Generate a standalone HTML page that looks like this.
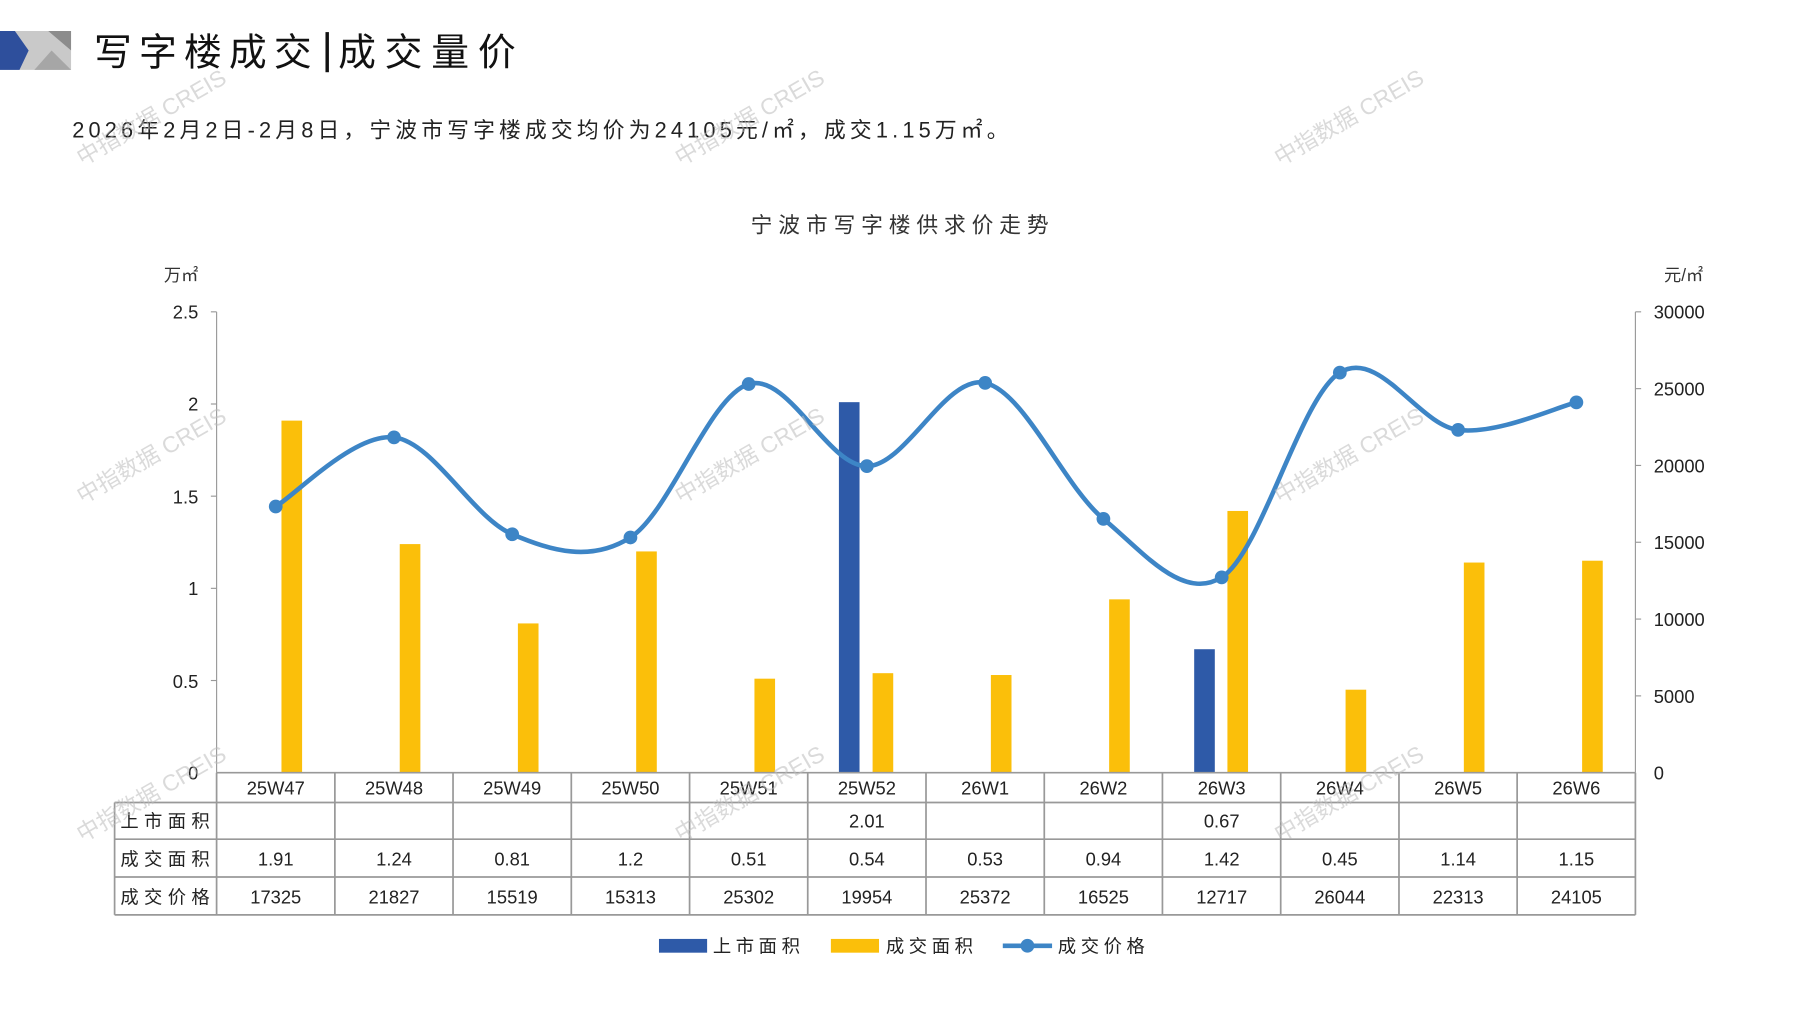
<!DOCTYPE html>
<html><head><meta charset="utf-8"><style>
html,body{margin:0;padding:0;background:#fff;}
svg{display:block;font-family:"Liberation Sans","Noto Sans CJK SC",sans-serif;}
</style></head><body>
<svg width="1797" height="1010" viewBox="0 0 1568 881" preserveAspectRatio="none" xmlns="http://www.w3.org/2000/svg">
<rect width="1568" height="881" fill="#fff"/>
<!-- header -->
<polygon points="0,27 42,27 62,44 62,61 0,61" fill="#c9c9c9"/>
<polygon points="42,27 62,27 62,44" fill="#8c8c8c"/>
<polygon points="0,27 13,27 25,44 17,61 0,61" fill="#2e4f9c"/>
<polygon points="30,61 45,44 62,61" fill="#a6a6a6"/>
<text x="82" y="57" font-size="33" fill="#111" textLength="190" lengthAdjust="spacing">写字楼成交</text>
<rect x="284" y="28" width="3" height="35" fill="#111"/>
<text x="295" y="57" font-size="33" fill="#111" textLength="155" lengthAdjust="spacing">成交量价</text>
<text x="63" y="120" font-size="19" fill="#222" textLength="817" lengthAdjust="spacing">2026年2月2日-2月8日，宁波市写字楼成交均价为24105元/㎡，成交1.15万㎡。</text>
<text x="655" y="203" font-size="19" fill="#333" textLength="260" lengthAdjust="spacing">宁波市写字楼供求价走势</text>
<text x="143" y="245" font-size="15" fill="#333">万㎡</text>
<text x="1452" y="245" font-size="15" fill="#333">元/㎡</text>
<!-- axes -->
<g stroke="#999" stroke-width="1">
<line x1="189" y1="272" x2="189" y2="674"/>
<line x1="1427" y1="272" x2="1427" y2="674"/>
<line x1="184" y1="272" x2="189" y2="272"/><line x1="184" y1="352.4" x2="189" y2="352.4"/><line x1="184" y1="432.8" x2="189" y2="432.8"/><line x1="184" y1="513.2" x2="189" y2="513.2"/><line x1="184" y1="593.6" x2="189" y2="593.6"/>
<line x1="1427" y1="272" x2="1432" y2="272"/><line x1="1427" y1="339" x2="1432" y2="339"/><line x1="1427" y1="406" x2="1432" y2="406"/><line x1="1427" y1="473" x2="1432" y2="473"/><line x1="1427" y1="540" x2="1432" y2="540"/><line x1="1427" y1="607" x2="1432" y2="607"/>
</g>
<g font-size="16" fill="#222" text-anchor="end">
<text x="173" y="278">2.5</text><text x="173" y="358">2</text><text x="173" y="439">1.5</text><text x="173" y="519">1</text><text x="173" y="600">0.5</text><text x="173" y="680">0</text>
</g>
<g font-size="16" fill="#222">
<text x="1443" y="278">30000</text><text x="1443" y="345">25000</text><text x="1443" y="412">20000</text><text x="1443" y="479">15000</text><text x="1443" y="546">10000</text><text x="1443" y="613">5000</text><text x="1443" y="680">0</text>
</g>
<!-- bars -->
<g fill="#2e5aa8">
<rect x="732" y="350.8" width="18" height="323.2"/>
<rect x="1042" y="566.3" width="18" height="107.7"/>
</g>
<g fill="#fbbf0a">
<rect x="245.6" y="366.9" width="18" height="307.1"/>
<rect x="348.8" y="474.6" width="18" height="199.4"/>
<rect x="451.9" y="543.8" width="18" height="130.2"/>
<rect x="555.1" y="481.0" width="18" height="193"/>
<rect x="658.3" y="592.0" width="18" height="82"/>
<rect x="761.4" y="587.2" width="18" height="86.8"/>
<rect x="864.6" y="588.8" width="18" height="85.2"/>
<rect x="967.8" y="522.8" width="18" height="151.2"/>
<rect x="1071.0" y="445.7" width="18" height="228.3"/>
<rect x="1174.1" y="601.6" width="18" height="72.4"/>
<rect x="1277.3" y="490.7" width="18" height="183.3"/>
<rect x="1380.5" y="489.1" width="18" height="184.9"/>
</g>
<!-- line -->
<path d="M240.6,441.8 C257.8,431.75 309.4,377.5 343.8,381.5 C378.2,385.5 412.5,451.45 446.9,466 C481.3,480.55 515.7,490.6 550.1,468.8 C584.5,447 618.9,345.4 653.3,335 C687.7,324.6 722,406.8 756.4,406.6 C790.8,406.4 825.2,326.3 859.6,334 C894,341.7 928.4,424.3 962.8,452.6 C997.2,480.9 1031.6,524.9 1066,503.6 C1100.4,482.3 1134.7,346.4 1169.1,325 C1203.5,303.6 1237.9,370.7 1272.3,375 C1306.7,379.3 1358.3,355 1375.5,351" fill="none" stroke="#3d85c6" stroke-width="4"/>
<g fill="#3d85c6">
<circle cx="240.6" cy="441.8" r="6"/><circle cx="343.8" cy="381.5" r="6"/><circle cx="446.9" cy="466" r="6"/><circle cx="550.1" cy="468.8" r="6"/><circle cx="653.3" cy="335" r="6"/><circle cx="756.4" cy="406.6" r="6"/><circle cx="859.6" cy="334" r="6"/><circle cx="962.8" cy="452.6" r="6"/><circle cx="1066" cy="503.6" r="6"/><circle cx="1169.1" cy="325" r="6"/><circle cx="1272.3" cy="375" r="6"/><circle cx="1375.5" cy="351" r="6"/>
</g>
<!-- table -->
<g stroke="#999" stroke-width="1.5" fill="none">
<line x1="189" y1="674" x2="1427" y2="674"/>
<line x1="100" y1="700" x2="1427" y2="700"/>
<line x1="100" y1="732" x2="1427" y2="732"/>
<line x1="100" y1="765" x2="1427" y2="765"/>
<line x1="100" y1="798" x2="1427" y2="798"/>
<line x1="100" y1="700" x2="100" y2="798"/>
<line x1="189" y1="674" x2="189" y2="798"/>
<line x1="292.2" y1="674" x2="292.2" y2="798"/><line x1="395.3" y1="674" x2="395.3" y2="798"/><line x1="498.5" y1="674" x2="498.5" y2="798"/><line x1="601.7" y1="674" x2="601.7" y2="798"/><line x1="704.8" y1="674" x2="704.8" y2="798"/><line x1="808" y1="674" x2="808" y2="798"/><line x1="911.2" y1="674" x2="911.2" y2="798"/><line x1="1014.3" y1="674" x2="1014.3" y2="798"/><line x1="1117.5" y1="674" x2="1117.5" y2="798"/><line x1="1220.7" y1="674" x2="1220.7" y2="798"/><line x1="1323.8" y1="674" x2="1323.8" y2="798"/>
<line x1="1427" y1="674" x2="1427" y2="798"/>
</g>
<g font-size="16" fill="#222" text-anchor="middle">
<text x="240.6" y="693">25W47</text><text x="343.8" y="693">25W48</text><text x="446.9" y="693">25W49</text><text x="550.1" y="693">25W50</text><text x="653.3" y="693">25W51</text><text x="756.4" y="693">25W52</text><text x="859.6" y="693">26W1</text><text x="962.8" y="693">26W2</text><text x="1066" y="693">26W3</text><text x="1169.1" y="693">26W4</text><text x="1272.3" y="693">26W5</text><text x="1375.5" y="693">26W6</text>
<text x="756.4" y="722">2.01</text><text x="1066" y="722">0.67</text>
<text x="240.6" y="755">1.91</text><text x="343.8" y="755">1.24</text><text x="446.9" y="755">0.81</text><text x="550.1" y="755">1.2</text><text x="653.3" y="755">0.51</text><text x="756.4" y="755">0.54</text><text x="859.6" y="755">0.53</text><text x="962.8" y="755">0.94</text><text x="1066" y="755">1.42</text><text x="1169.1" y="755">0.45</text><text x="1272.3" y="755">1.14</text><text x="1375.5" y="755">1.15</text>
<text x="240.6" y="788">17325</text><text x="343.8" y="788">21827</text><text x="446.9" y="788">15519</text><text x="550.1" y="788">15313</text><text x="653.3" y="788">25302</text><text x="756.4" y="788">19954</text><text x="859.6" y="788">25372</text><text x="962.8" y="788">16525</text><text x="1066" y="788">12717</text><text x="1169.1" y="788">26044</text><text x="1272.3" y="788">22313</text><text x="1375.5" y="788">24105</text>
</g>
<g font-size="16" fill="#222">
<text x="105" y="722" textLength="78" lengthAdjust="spacing">上市面积</text><text x="105" y="755" textLength="78" lengthAdjust="spacing">成交面积</text><text x="105" y="788" textLength="78" lengthAdjust="spacing">成交价格</text>
</g>
<!-- legend -->
<rect x="575" y="819" width="42" height="12" fill="#2e5aa8"/>
<text x="622" y="831" font-size="16" fill="#222" textLength="76" lengthAdjust="spacing">上市面积</text>
<rect x="725" y="819" width="42" height="12" fill="#fbbf0a"/>
<text x="773" y="831" font-size="16" fill="#222" textLength="76" lengthAdjust="spacing">成交面积</text>
<line x1="875" y1="825" x2="918" y2="825" stroke="#3d85c6" stroke-width="4"/>
<circle cx="896.5" cy="825" r="6" fill="#3d85c6"/>
<text x="923" y="831" font-size="16" fill="#222" textLength="76" lengthAdjust="spacing">成交价格</text>
<!-- watermarks -->
<g font-size="20" fill="#bbb" fill-opacity="0.55">
<text transform="translate(72,145) rotate(-30)">中指数据 CREIS</text>
<text transform="translate(594,145) rotate(-30)">中指数据 CREIS</text>
<text transform="translate(1117,145) rotate(-30)">中指数据 CREIS</text>
<text transform="translate(72,440) rotate(-30)">中指数据 CREIS</text>
<text transform="translate(594,440) rotate(-30)">中指数据 CREIS</text>
<text transform="translate(1117,440) rotate(-30)">中指数据 CREIS</text>
<text transform="translate(72,735) rotate(-30)">中指数据 CREIS</text>
<text transform="translate(594,735) rotate(-30)">中指数据 CREIS</text>
<text transform="translate(1117,735) rotate(-30)">中指数据 CREIS</text>
</g>
</svg>
</body></html>
